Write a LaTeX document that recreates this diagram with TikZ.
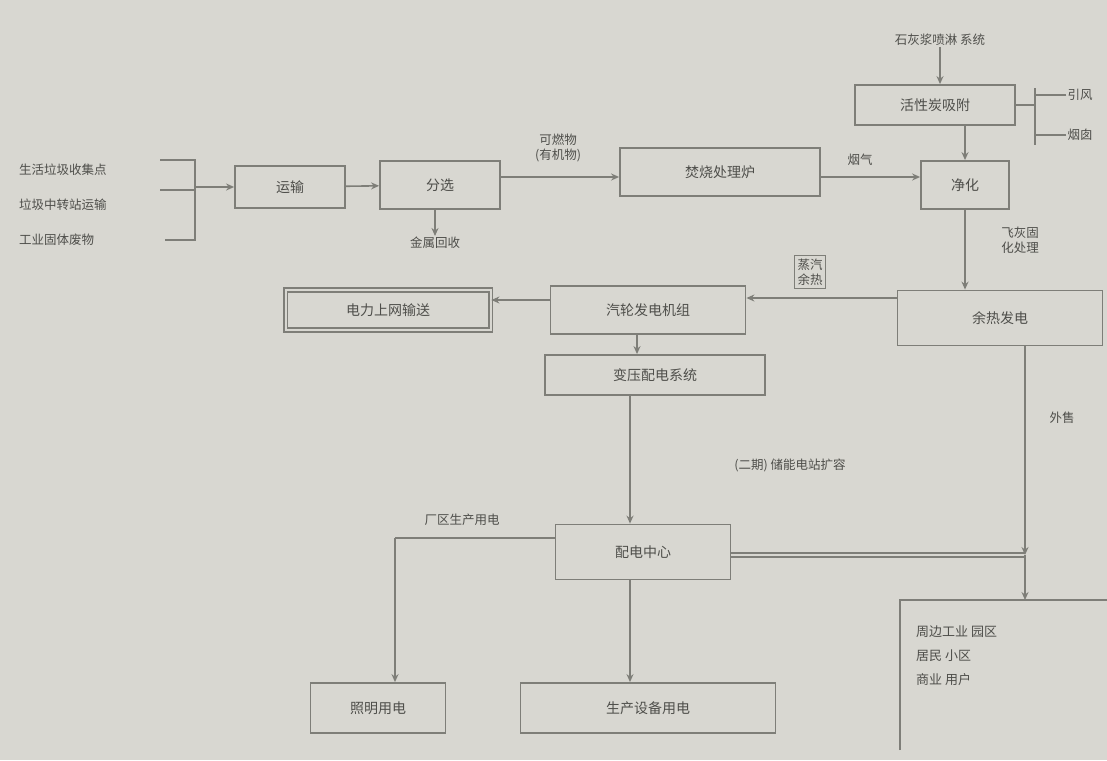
\documentclass[tikz,border=0pt]{standalone}
\usepackage{fontspec}
\setmainfont{Noto Sans CJK SC}
\usetikzlibrary{arrows.meta}
\definecolor{bg}{HTML}{D8D7D1}
\definecolor{ln}{HTML}{7E7E78}
\definecolor{tx}{HTML}{4E4E4A}
\tikzset{
  box/.style={draw=ln, line width=1.8pt, minimum height=#1, inner sep=2pt, font=\fontsize{14}{16}\selectfont, text=tx},
  box/.default=45pt,
  lbl/.style={font=\fontsize{12.5}{15}\selectfont, text=tx, inner sep=1pt, align=center},
  arr/.style={draw=ln, line width=1.6pt, -{Stealth[length=8pt,width=7pt]}},
  con/.style={draw=ln, line width=1.6pt},
}
\begin{document}
\begin{tikzpicture}[x=1pt,y=-1pt]
\fill[bg] (0,0) rectangle (1107,760);
\useasboundingbox (0,0) rectangle (1107,760);

% left inputs
\node[lbl, anchor=west] (in1) at (18,170) {生活垃圾收集点};
\node[lbl, anchor=west] (in2) at (18,205) {垃圾中转站运输};
\node[lbl, anchor=west] (in3) at (18,240) {工业固体废物};
\coordinate (bt) at (195,160);
\coordinate (bb) at (195,240);
\coordinate (bm) at (195,187);
\draw[con] (160,160) -- (bt) -- (bb) -- (165,240);
\draw[con] (160,190) -- (195,190);

% row 1
\node[box=42pt, minimum width=110pt] (b1) at (290,187) {运输};
\node[box=48pt, minimum width=120pt] (b2) at (440,185) {分选};
\node[lbl] (met) at (435,243) {金属回收};
\node[lbl] (l23) at (558,148) {可燃物\\(有机物)};
\node[box=48pt, minimum width=200pt] (b3) at (720,172) {焚烧处理炉};
\node[lbl] (gas) at (860,160) {烟气};
\node[box=48pt, minimum width=88pt] (b4) at (965,185) {净化};
\node[lbl] (lime) at (940,40) {石灰浆喷淋 系统};
\node[box=40pt, minimum width=160pt] (bt1) at (935,105) {活性炭吸附};
\node[lbl] (fan) at (1080,95) {引风};
\node[lbl] (chim) at (1080,135) {烟囱};

\draw[arr] (bm) -- (b1.west |- bm);
\draw[arr] (b1) -- (b2);
\draw[arr] (b2.south -| met) -- (met.north);
\draw[arr] (b2.east |- 0,177) -- (b3.west |- 0,177);
\draw[arr] (b3.east |- 0,177) -- (b4.west |- 0,177);
\draw[arr] (lime) -- (bt1.north -| lime);
\draw[arr] (bt1.south -| b4.north) -- (b4.north);
\draw[con] (1035,88) -- (1035,145);
\draw[con] (bt1.east) -- (1035,105);
\draw[con] (fan.west) -- (1035,95);
\draw[con] (chim.west) -- (1035,135);

% right column down
\node[box=55pt, minimum width=205pt] (b5) at (1000,318) {余热发电};
\node[lbl] (ash) at (1020,240) {飞灰固\\化处理};
\draw[arr] (b4.south) -- (b5.north -| b4.south);

% row 2
\node[lbl, draw=ln, line width=1.3pt, inner sep=3pt] (steam) at (810,272) {蒸汽\\余热};
\node[box=48pt, minimum width=195pt] (b6) at (648,310) {汽轮发电机组};
\node[box=40pt, minimum width=205pt, double=bg, double distance=2pt] (b7) at (388,310) {电力上网输送};
\draw[arr] (b5.west |- 0,298) -- (b6.east |- 0,298);
\draw[arr] (b6.west |- 0,300) -- (b7.east |- 0,300);
\node[box=40pt, minimum width=220pt] (b8) at (655,375) {变压配电系统};
\draw[arr] (b6.south -| 637,0) -- (b8.north -| 637,0);

% lower part
\node[lbl] (ext) at (790,465) {(二期) 储能电站扩容};
\node[box=55pt, minimum width=175pt] (b9) at (643,552) {配电中心};
\draw[arr] (b8.south -| 630,0) -- (b9.north -| 630,0);
\node[lbl] (plant) at (462,520) {厂区生产用电};
\coordinate (lc) at (395,538);
\draw[con] (b9.west |- lc) -- (lc);
\node[box=50pt, minimum width=135pt] (b10) at (378,708) {照明用电};
\draw[arr] (lc) -- (lc |- b10.north);
\node[box=50pt, minimum width=255pt] (b11) at (648,708) {生产设备用电};
\draw[arr] (b9.south -| 630,0) -- (b11.north -| 630,0);

\node[lbl] (sell) at (1062,418) {外售};
\coordinate (rc) at (1025,555);
\draw[con, double=bg, double distance=2pt] (b9.east |- rc) -- (rc);
\draw[arr] (b5.south -| rc) -- (rc);
\draw[draw=ln, line width=1.8pt] (900,750) -- (900,600) -- (1107,600);
\coordinate (b12top) at (1025,600);
\draw[arr] (rc) -- (b12top);
\node[lbl, anchor=north west, align=left, font=\fontsize{13}{24}\selectfont] (users) at (915,625) {周边工业 园区\\居民 小区\\商业 用户};
\end{tikzpicture}
\end{document}
